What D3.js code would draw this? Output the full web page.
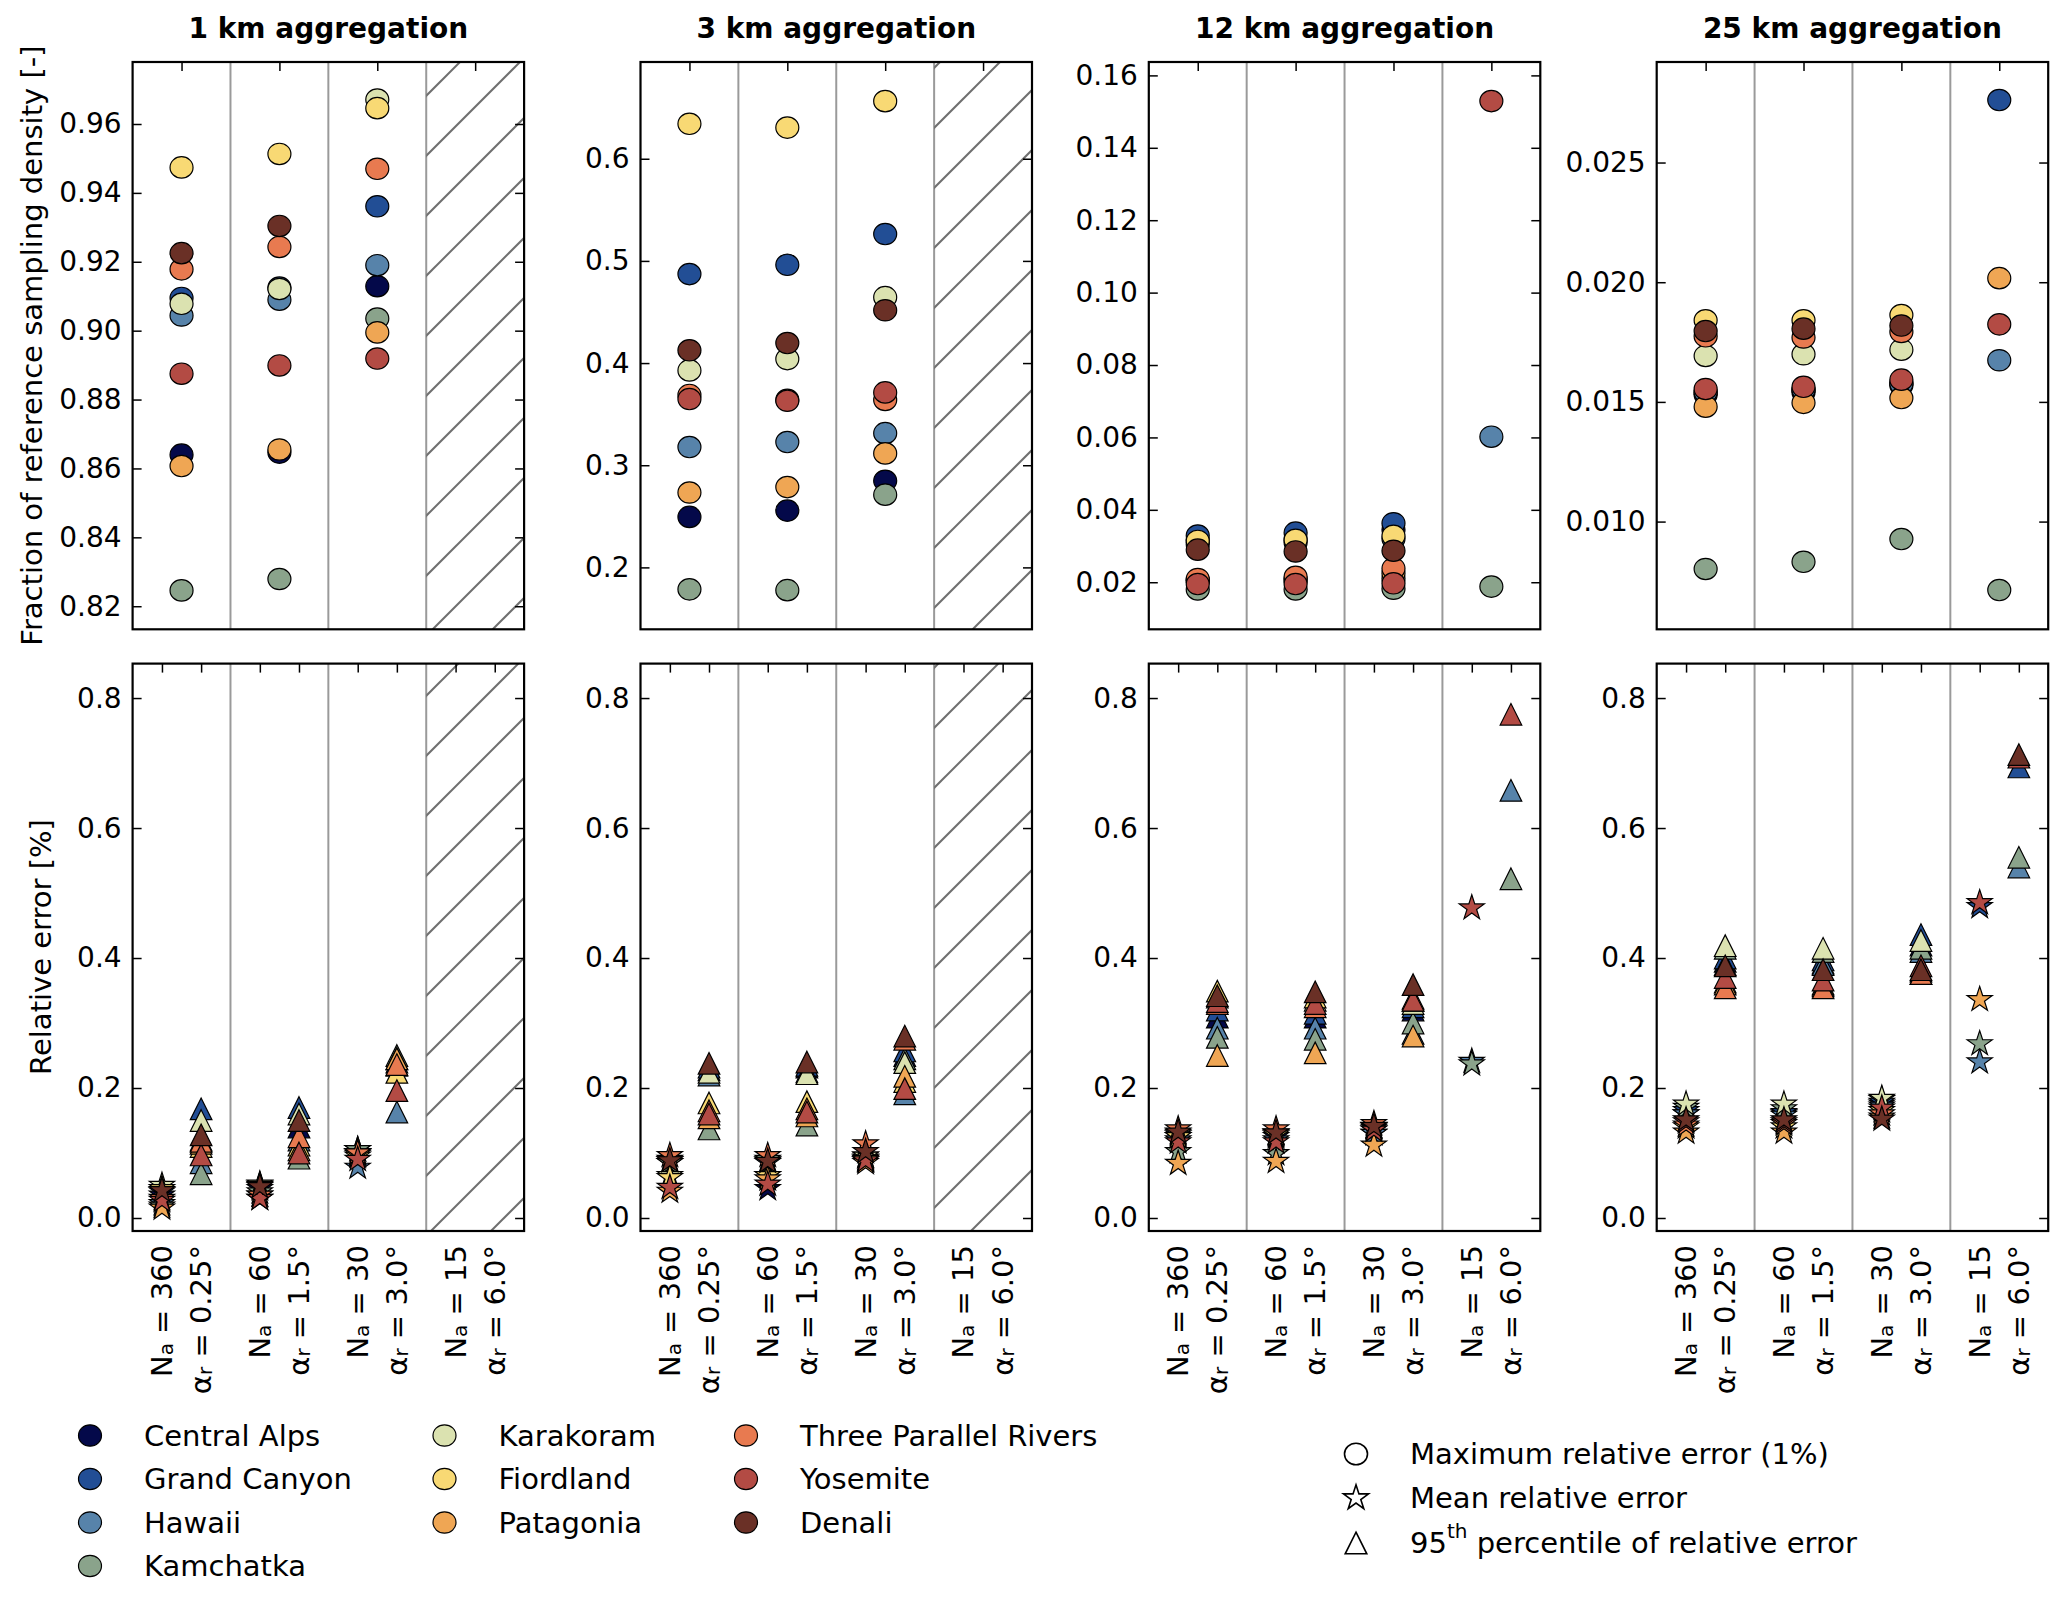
<!DOCTYPE html>
<html><head><meta charset="utf-8">
<script src="https://cdn.jsdelivr.net/npm/d3@7"></script>
<style>body{margin:0;background:#fff} text{font-family:"DejaVu Sans",sans-serif;fill:#000}</style>
</head><body><svg id="c" width="2067" height="1597"></svg>
<script>
// ---------------- data ----------------
const regions = ["Central Alps","Grand Canyon","Hawaii","Kamchatka","Karakoram","Fiordland","Patagonia","Three Parallel Rivers","Yosemite","Denali"];
const regionColors = ["#04094a","#224e95","#5783aa","#8aa38b","#dbe2b0","#f8d974","#efa654","#e87a50","#b34b44","#6a3026"];
const panelTitles = ["1 km aggregation","3 km aggregation","12 km aggregation","25 km aggregation"];
const naValues = ["360","60","30","15"];
const alphaValues = ["0.25°","1.5°","3.0°","6.0°"];

// Fraction of reference sampling density, per region, per setting (null = not available)
const density1km = [
  [0.8640,0.8646,0.9129,null],[0.9095,0.9125,0.9361,null],[0.9044,0.9090,0.9190,null],
  [0.8246,0.8279,0.9035,null],[0.9078,0.9121,0.9671,null],[0.9474,0.9513,0.9646,null],
  [0.8607,0.8655,0.8995,null],[0.9178,0.9243,0.9470,null],[0.8875,0.8899,0.8919,null],
  [0.9225,0.9304,null,null]];
const density3km = [
  [0.2494,0.2556,0.2848,null],[0.4871,0.4962,0.5263,null],[0.3178,0.3227,0.3314,null],
  [0.1785,0.1777,0.2712,null],[0.3928,0.4039,0.4645,null],[0.6342,0.6305,0.6564,null],
  [0.2733,0.2786,0.3116,null],[0.3688,0.3640,0.3639,null],[0.3648,0.3631,0.3713,null],
  [0.4125,0.4196,0.4517,null]];
const density12km = [
  [0.0316,0.0320,0.0345,null],[0.0329,0.0337,0.0363,null],[0.0305,0.0310,0.0320,0.0602],
  [0.0180,0.0180,0.0182,0.0188],[0.0205,0.0205,0.0210,null],[0.0314,0.0317,0.0328,null],
  [0.0205,0.0208,0.0225,null],[0.0209,0.0215,0.0238,null],[0.0195,0.0195,0.0197,0.1529],
  [0.0290,0.0285,0.0287,null]];
const density25km = [
  [0.0153,0.0154,0.0157,null],[0.0154,0.0155,0.0158,0.02761],[0.0154,0.0155,0.01575,0.01674],
  [0.00802,0.00832,0.00927,0.00714],[0.01692,0.01699,0.01718,null],[0.01841,0.01841,0.01863,null],
  [0.01480,0.01496,0.01516,0.02017],[0.01774,0.01769,0.01792,null],[0.01554,0.01563,0.01593,0.01824],
  [0.01796,0.01806,0.01819,null]];

// Mean relative error (stars)
const mean1km = [
  [0.035,0.045,0.105,null],[0.040,0.050,0.100,null],[0.022,0.035,0.078,null],
  [0.018,0.040,0.105,null],[0.050,0.052,0.100,null],[0.045,0.050,0.095,null],
  [0.015,0.030,0.098,null],[0.030,0.035,0.100,null],[0.027,0.030,0.090,null],
  [0.042,0.048,null,null]];
const mean3km = [
  [0.085,0.045,0.090,null],[0.090,0.088,0.095,null],[0.088,0.085,0.088,null],
  [0.085,0.090,0.092,null],[0.065,0.065,0.095,null],[0.062,0.065,0.090,null],
  [0.041,0.060,0.085,null],[0.096,0.096,0.114,null],[0.047,0.052,0.088,null],
  [0.088,0.087,0.102,null]];
const mean12km = [
  [0.125,0.125,0.130,null],[0.128,0.130,0.138,null],[0.120,0.120,0.130,0.241],
  [0.102,0.099,0.140,0.237],[0.130,0.130,0.140,null],[0.125,0.128,0.135,null],
  [0.084,0.087,0.112,null],[0.137,0.137,0.145,null],[0.117,0.117,0.135,0.477],
  [0.132,0.131,0.141,null]];
const mean25km = [
  [0.160,0.160,0.175,null],[0.165,0.162,0.178,0.479],[0.160,0.158,0.172,0.240],
  [0.170,0.168,0.182,0.268],[0.175,0.175,0.184,null],[0.140,0.140,0.165,null],
  [0.132,0.132,0.155,0.336],[0.143,0.145,0.160,null],[0.148,0.148,0.169,0.485],
  [0.151,0.151,0.152,null]];

// 95th percentile of relative error (triangles)
const p95_1km = [
  [0.120,0.140,0.240,null],[0.168,0.170,0.235,null],[0.085,0.120,0.163,null],
  [0.068,0.092,0.250,null],[0.150,0.160,0.245,null],[0.110,0.112,0.224,null],
  [0.115,0.105,0.245,null],[0.118,0.125,0.236,null],[0.097,0.100,0.196,null],
  [0.128,0.150,null,null]];
const p95_3km = [
  [0.228,0.232,0.250,null],[0.232,0.235,0.257,null],[0.220,0.225,0.191,null],
  [0.137,0.143,0.245,null],[0.224,0.222,0.239,null],[0.177,0.179,0.210,null],
  [0.154,0.157,0.218,null],[0.165,0.168,0.275,null],[0.160,0.163,0.199,null],
  [0.238,0.240,0.280,null]];
const p95_12km = [
  [0.309,0.309,0.320,null],[0.320,0.315,0.325,null],[0.292,0.292,0.284,0.658],
  [0.278,0.275,0.300,0.522],[0.340,0.335,0.330,null],[0.349,0.340,0.335,null],
  [0.250,0.254,0.280,null],[0.330,0.325,0.338,null],[0.333,0.330,0.335,0.775],
  [0.342,0.348,0.359,null]];
const p95_25km = [
  [0.395,0.392,0.420,null],[0.400,0.397,0.436,0.694],[0.390,0.390,0.410,0.540],
  [0.415,0.410,0.415,0.555],[0.419,0.415,0.427,null],[0.363,0.360,0.380,null],
  [0.360,0.357,0.376,null],[0.354,0.354,0.376,null],[0.370,0.366,0.388,0.709],
  [0.388,0.382,0.382,0.713]];

const densitySets = [density1km, density3km, density12km, density25km];
const meanSets = [mean1km, mean3km, mean12km, mean25km];
const p95Sets = [p95_1km, p95_3km, p95_12km, p95_25km];
const densityRanges = [[0.8133,0.978],[0.1394,0.6947],[0.007,0.1637],[0.0055,0.0292]];
const densityTicks = [[0.82,0.84,0.86,0.88,0.90,0.92,0.94,0.96],[0.2,0.3,0.4,0.5,0.6],
  [0.02,0.04,0.06,0.08,0.10,0.12,0.14,0.16],[0.010,0.015,0.020,0.025]];
const densityFormats = [".2f",".1f",".2f",".3f"];
const errorRange = [-0.02,0.853];
const errorTicks = [0.0,0.2,0.4,0.6,0.8];
const unavailable = [[3],[3],[],[]]; // hatched settings per panel

// ---------------- layout ----------------
const svg = d3.select("#c");
const panelX = [132.6, 640.5, 1148.8, 1656.7];
const panelW = 391.5;
const rowTop = [62, 629.3];
const rowBot = [663.6, 1231];
const TICK = 9;

const R = 11;
function starPath(Ro){const ri=Ro*0.381966;const p=[];for(let i=0;i<10;i++){const a=-Math.PI/2+i*Math.PI/5;const rr=i%2?ri:Ro;p.push([(rr*Math.cos(a)).toFixed(2),(rr*Math.sin(a)).toFixed(2)]);}return "M"+p.join("L")+"Z";}
const STAR = starPath(13.2);
const TRI = "M0,-10.8L10.8,10.8L-10.8,10.8Z";

// hatch pattern (lines x+y=c, spacing 60 in page coords)
function drawHatch(g, x0, x1, y0, y1, id){
  g.append("clipPath").attr("id",id).append("rect").attr("x",x0).attr("y",y0).attr("width",x1-x0).attr("height",y1-y0);
  const hg = g.append("g").attr("clip-path",`url(#${id})`);
  const cmin = x0+y0, cmax = x1+y1;
  let c = Math.ceil((cmin-42)/60)*60+42;
  for(; c<=cmax; c+=60){
    hg.append("line").attr("x1",c-y1).attr("y1",y1).attr("x2",c-y0).attr("y2",y0)
      .attr("stroke","#6f6f6f").attr("stroke-width",2);
  }
}

function drawFrame(g, x, y, tickVals, fmt, topTicks, showLabels){
  const [x0,x1] = x.range();
  const [y1,y0] = y.range();
  const la = d3.axisLeft(y).tickValues(tickVals).tickSize(-TICK).tickPadding(11)
    .tickFormat(showLabels? d3.format(fmt) : "");
  const lg = g.append("g").attr("transform",`translate(${x0},0)`).call(la);
  lg.select(".domain").remove();
  lg.selectAll("text").style("font-size","28px").style("font-family","DejaVu Sans");
  lg.selectAll("line").attr("stroke","#000").attr("stroke-width",1.5);
  const ra = d3.axisRight(y).tickValues(tickVals).tickSize(-TICK).tickFormat("");
  const rg = g.append("g").attr("transform",`translate(${x1},0)`).call(ra);
  rg.select(".domain").remove();
  rg.selectAll("line").attr("stroke","#000").attr("stroke-width",1.5);
  const ta = d3.axisTop(x).tickValues(topTicks).tickSize(-TICK).tickFormat("");
  const tg = g.append("g").attr("transform",`translate(0,${y0})`).call(ta);
  tg.select(".domain").remove();
  tg.selectAll("line").attr("stroke","#000").attr("stroke-width",1.5);
  g.append("rect").attr("x",x0).attr("y",y0).attr("width",x1-x0).attr("height",y1-y0)
    .attr("fill","none").attr("stroke","#000").attr("stroke-width",2.2);
}

function drawBackground(g, x, y0, y1, p, row){
  [1,2,3].forEach(v=>{
    g.append("line").attr("x1",x(v)).attr("x2",x(v)).attr("y1",y0).attr("y2",y1)
      .attr("stroke","#9a9a9a").attr("stroke-width",2);
  });
  unavailable[p].forEach(s=>drawHatch(g, x(s), x(s+1), y0, y1, `h${p}_${row}_${s}`));
}

for(let p=0;p<4;p++){
  const x = d3.scaleLinear().domain([0,4]).range([panelX[p], panelX[p]+panelW]);
  // ---- top row: density
  const yT = d3.scaleLinear().domain(densityRanges[p]).range([rowTop[1], rowTop[0]]);
  const gT = svg.append("g");
  drawBackground(gT, x, rowTop[0], rowTop[1], p, 0);
  densitySets[p].forEach((vals,ri)=>{
    vals.forEach((v,s)=>{
      if(v==null) return;
      gT.append("ellipse").attr("cx",x(s+0.5)).attr("cy",yT(v)).attr("rx",R+0.5).attr("ry",R-0.3)
        .attr("fill",regionColors[ri]).attr("stroke","#000").attr("stroke-width",1.2);
    });
  });
  drawFrame(gT, x, yT, densityTicks[p], densityFormats[p], [0.5,1.5,2.5,3.5], true);
  svg.append("text").attr("x",panelX[p]+panelW/2).attr("y",38).attr("text-anchor","middle")
    .style("font-size","28px").style("font-weight","bold").text(panelTitles[p]);

  // ---- bottom row: relative errors
  const yB = d3.scaleLinear().domain(errorRange).range([rowBot[1], rowBot[0]]);
  const gB = svg.append("g");
  drawBackground(gB, x, rowBot[0], rowBot[1], p, 1);
  for(let ri=0; ri<regions.length; ri++){
    meanSets[p][ri].forEach((v,s)=>{
      if(v==null) return;
      gB.append("path").attr("d",STAR).attr("transform",`translate(${x(s+0.3)},${yB(v)})`)
        .attr("fill",regionColors[ri]).attr("stroke","#000").attr("stroke-width",1.2);
    });
    p95Sets[p][ri].forEach((v,s)=>{
      if(v==null) return;
      gB.append("path").attr("d",TRI).attr("transform",`translate(${x(s+0.7)},${yB(v)})`)
        .attr("fill",regionColors[ri]).attr("stroke","#000").attr("stroke-width",1.2);
    });
  }
  const topT = []; for(let s=0;s<4;s++){topT.push(s+0.3, s+0.7);}
  drawFrame(gB, x, yB, errorTicks, ".1f", topT, true);

  // x tick labels (rotated)
  for(let s=0;s<4;s++){
    const t1 = svg.append("text").attr("transform",`translate(${x(s+0.3)},1245) rotate(-90)`)
      .attr("text-anchor","end").attr("dominant-baseline","central").style("font-size","29px");
    t1.append("tspan").text("N");
    t1.append("tspan").attr("baseline-shift","-22%").style("font-size","20px").text("a");
    t1.append("tspan").text(" = "+naValues[s]);
    const t2 = svg.append("text").attr("transform",`translate(${x(s+0.7)},1245) rotate(-90)`)
      .attr("text-anchor","end").attr("dominant-baseline","central").style("font-size","29px");
    t2.append("tspan").text("α");
    t2.append("tspan").attr("baseline-shift","-22%").style("font-size","20px").text("r");
    t2.append("tspan").text(" = "+alphaValues[s]);
  }
}

// y axis titles
svg.append("text").attr("transform","translate(32,345.6) rotate(-90)").attr("text-anchor","middle")
  .attr("dominant-baseline","central").style("font-size","29px").text("Fraction of reference sampling density [-]");
svg.append("text").attr("transform","translate(41,947) rotate(-90)").attr("text-anchor","middle")
  .attr("dominant-baseline","central").style("font-size","29px").text("Relative error [%]");

// ---------------- legends ----------------
const legendCols = [[0,1,2,3],[4,5,6],[7,8,9]];
const legColX = [90, 444.5, 746];
const legRowY = [1435.5, 1479, 1522.5, 1566];
legendCols.forEach((col,ci)=>{
  col.forEach((ri,k)=>{
    svg.append("ellipse").attr("cx",legColX[ci]).attr("cy",legRowY[k]).attr("rx",R+0.5).attr("ry",R-0.3)
      .attr("fill",regionColors[ri]).attr("stroke","#000").attr("stroke-width",1.2);
    svg.append("text").attr("x",legColX[ci]+54).attr("y",legRowY[k]).attr("dominant-baseline","central")
      .style("font-size","29px").text(regions[ri]);
  });
});
const shapeY = [1454, 1498, 1543];
const shapeX = 1356;
svg.append("ellipse").attr("cx",shapeX).attr("cy",shapeY[0]).attr("rx",R+0.5).attr("ry",R-0.3)
  .attr("fill","#fff").attr("stroke","#000").attr("stroke-width",1.6);
svg.append("path").attr("d",STAR).attr("transform",`translate(${shapeX},${shapeY[1]})`)
  .attr("fill","#fff").attr("stroke","#000").attr("stroke-width",1.6);
svg.append("path").attr("d",TRI).attr("transform",`translate(${shapeX},${shapeY[2]})`)
  .attr("fill","#fff").attr("stroke","#000").attr("stroke-width",1.6);
svg.append("text").attr("x",1410).attr("y",shapeY[0]).attr("dominant-baseline","central").style("font-size","29px").text("Maximum relative error (1%)");
svg.append("text").attr("x",1410).attr("y",shapeY[1]).attr("dominant-baseline","central").style("font-size","29px").text("Mean relative error");
const t95 = svg.append("text").attr("x",1410).attr("y",shapeY[2]).attr("dominant-baseline","central").style("font-size","29px");
t95.append("tspan").text("95");
t95.append("tspan").attr("baseline-shift","super").style("font-size","20px").text("th");
t95.append("tspan").text(" percentile of relative error");
</script></body></html>
